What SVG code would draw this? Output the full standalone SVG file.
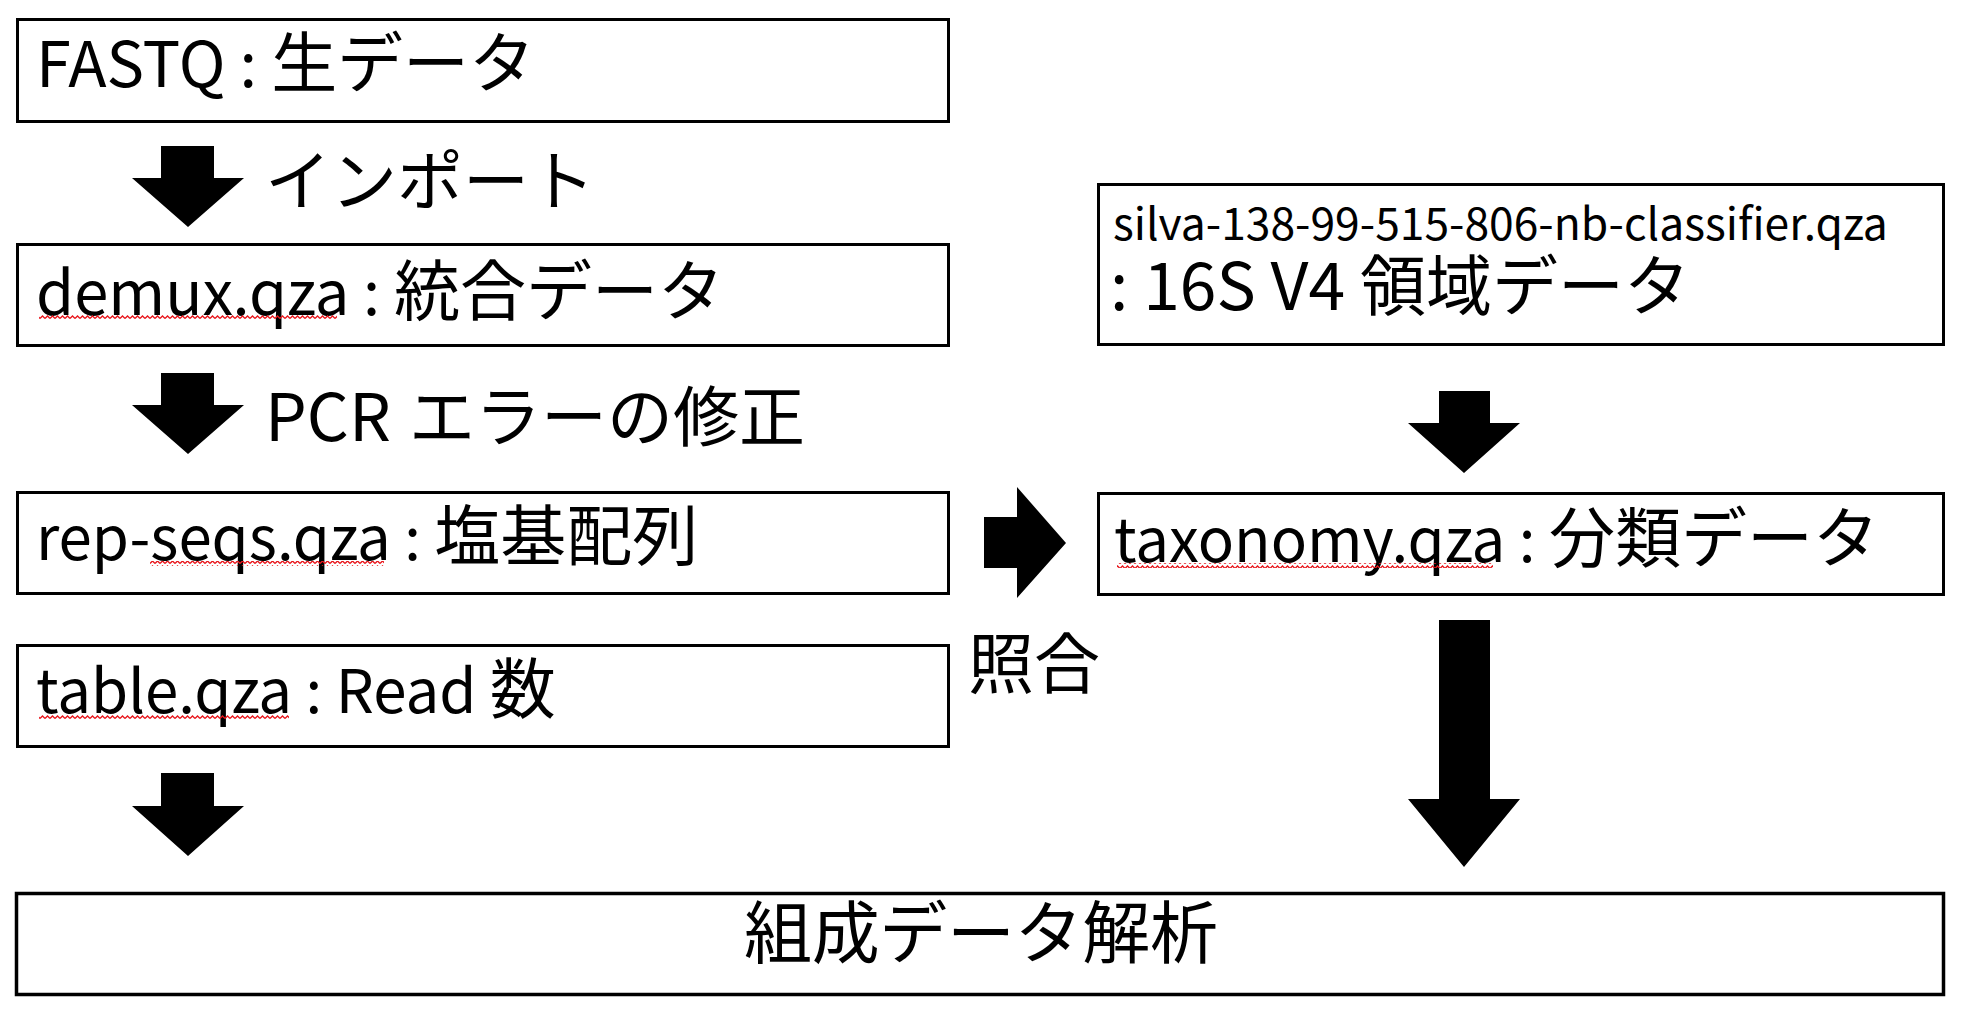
<svg xmlns="http://www.w3.org/2000/svg" width="1968" height="1014" viewBox="0 0 1968 1014">
  <style>
    .box { fill: #ffffff; stroke: #000000; stroke-width: 3; }
    .lbl { font-family: "Noto Sans CJK JP", "Liberation Sans", sans-serif; font-size: 66px; fill: #000000; }
    .lat { font-size: 60px; }
    .small { font-size: 44.4px; }
    .title { font-size: 68px; }
    .arrow { fill: #000000; stroke: none; }
    .wavy { fill: url(#wave); }
  </style>
  <defs>
    <pattern id="wave" x="0" y="0" width="5" height="5" patternUnits="userSpaceOnUse">
      <path d="M0,3.5 L2.5,1 L5,3.5" fill="none" stroke="#e8151b" stroke-width="1.3"/>
    </pattern>
  </defs>
  <rect width="1968" height="1014" fill="#ffffff"/>

  <g id="connectors">
    <path id="arrow-import" class="arrow" d="M161,146 H214 V178 H244 L188,227 L132,178 H161 Z"/>
    <path id="arrow-pcr" class="arrow" d="M161,373 H214 V405 H244 L188,454 L132,405 H161 Z"/>
    <path id="arrow-table" class="arrow" d="M161,773 H214 V806 H244 L188,856 L132,806 H161 Z"/>
    <path id="arrow-silva" class="arrow" d="M1439,391 H1490 V423 H1520 L1464,473 L1408,423 H1439 Z"/>
    <path id="arrow-taxonomy" class="arrow" d="M1439,620 H1490 V799 H1520 L1464,867 L1408,799 H1439 Z"/>
    <path id="arrow-match" class="arrow" d="M984,517 H1017 V487 L1066,543 L1017,598 V568 H984 Z"/>
    <text class="lbl" x="265" y="205">インポート</text>
    <text class="lbl" x="265" y="441">PCR<tspan x="409">エラーの修正</tspan></text>
    <text class="lbl" x="968" y="688">照合</text>
  </g>

  <g id="node-fastq">
    <rect class="box" x="17.5" y="19.5" width="931" height="102"/>
    <text class="lbl" x="36" y="87"><tspan class="lat" style="font-size:63px">FASTQ : </tspan>生データ</text>
  </g>

  <g id="node-demux">
    <rect class="box" x="17.5" y="244.5" width="931" height="101"/>
    <text class="lbl" x="36" y="315"><tspan class="lat" style="font-size:61.5px">demux.qza : </tspan>統合データ</text>
    <rect class="wavy" x="39" y="315" width="298" height="5"/>
  </g>

  <g id="node-repseqs">
    <rect class="box" x="17.5" y="492.5" width="931" height="101"/>
    <text class="lbl" x="36" y="560"><tspan class="lat">rep-seqs.qza : </tspan>塩基配列</text>
    <rect class="wavy" x="150" y="561" width="234" height="5"/>
  </g>

  <g id="node-table">
    <rect class="box" x="17.5" y="645.5" width="931" height="101"/>
    <text class="lbl" x="36" y="713"><tspan class="lat">table.qza : Read </tspan>数</text>
    <rect class="wavy" x="39" y="715" width="250" height="5"/>
  </g>

  <g id="node-silva">
    <rect class="box" x="1098.5" y="184.5" width="845" height="160"/>
    <text class="lbl small" x="1113" y="240">silva-138-99-515-806-nb-classifier.qza</text>
    <text class="lbl" x="1110" y="310">: 16S V4 領域データ</text>
  </g>

  <g id="node-taxonomy">
    <rect class="box" x="1098.5" y="493.5" width="845" height="101"/>
    <text class="lbl" x="1114" y="562"><tspan class="lat">taxonomy.qza : </tspan>分類データ</text>
    <rect class="wavy" x="1117" y="563" width="376" height="5"/>
  </g>

  <g id="node-analysis">
    <rect class="box" x="16.5" y="893.5" width="1927" height="101" style="stroke-width:3.5"/>
    <text class="lbl title" x="744" y="958" textLength="474" lengthAdjust="spacing">組成データ解析</text>
  </g>
</svg>
